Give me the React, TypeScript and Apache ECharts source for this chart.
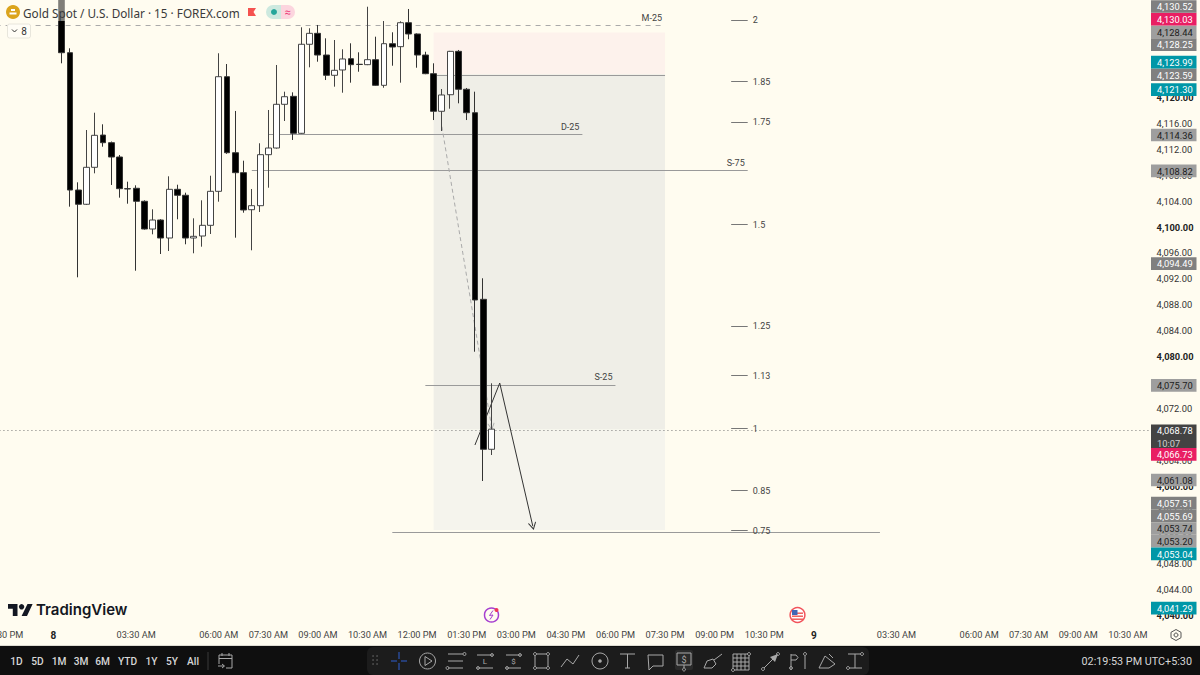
import React, { useEffect, useRef } from "react";
import * as echarts from "echarts";

// ---------- data ----------
const opens = [4136.6,4126.92,4105.71,4103.51,4109.22,4114.2,4113.02,4110.81,4105.92,4105.98,4103.97,4099.69,4101.08,4098.3,4105.82,4104.9,4098.3,4098.61,4100.26,4105.51,4123.21,4111.47,4108.39,4102.67,4103.29,4111.17,4112.2,4118.95,4120.18,4114.47,4128.22,4129.91,4126.56,4123.43,4124.25,4125.99,4125.13,4125.07,4125.84,4121.88,4128.31,4127.85,4131.55,4129.81,4126.56,4123.68,4117.87,4120.43,4127.13,4121.27,4117.65,4088.83,4065.67];
const closes = [4126.92,4105.71,4103.51,4109.22,4114.16,4113.02,4110.81,4105.92,4105.88,4103.97,4099.69,4101.08,4098.3,4105.82,4104.9,4098.3,4098.56,4100.26,4105.51,4123.21,4111.47,4108.39,4102.63,4103.29,4111.17,4112.2,4118.95,4120.12,4114.47,4128.22,4129.91,4126.56,4123.43,4124.2,4125.95,4125.07,4125.1,4125.84,4121.88,4128.31,4127.8,4131.55,4129.81,4126.56,4123.68,4117.87,4120.39,4127.13,4121.27,4117.65,4088.73,4065.67,4068.78];
const highs = [4137,4127.6,4106.9,4114.98,4117.65,4115.86,4113.2,4111.12,4107,4106.44,4104.12,4102.73,4101.2,4107.83,4106.53,4105.3,4101.34,4104.12,4107.92,4126.83,4125.17,4117.92,4110.24,4105.87,4112.93,4118.07,4125.02,4120.9,4120.8,4130.84,4130.69,4131.2,4129.14,4128.88,4127.44,4128.37,4126.98,4134.02,4129.39,4131.81,4130.07,4131.77,4133.67,4129.9,4127.07,4125.28,4121.31,4127.2,4127.34,4121.47,4120.9,4092.08,4075.86];
const lows = [4125.28,4103.14,4092.23,4103.4,4108.29,4112.4,4106.49,4104.53,4103.6,4093.25,4099.6,4098.87,4095.83,4096.29,4101.19,4097.33,4095.94,4096.96,4098.92,4103.91,4111.3,4098.35,4102.21,4096.4,4102.32,4106.07,4112.1,4116.37,4113.44,4114.4,4124.66,4125.53,4122.7,4121.67,4120.74,4122.29,4123.98,4125,4121.8,4121.51,4124.91,4122.29,4128.99,4124.6,4123.6,4116.52,4114.83,4118.27,4119.1,4116.52,4080.74,4060.77,4064.79];

const PRICE_MIN = 4036;
const PRICE_MAX = 4136;
const FIRST_BAR = -8; // categories start eight bars before the first candle
const BAR_COUNT = 140;

const timeTicks: [number, string][] = [
  [-7, "10:30 PM"], [-1, "8"], [9, "03:30 AM"], [19, "06:00 AM"], [25, "07:30 AM"], [31, "09:00 AM"],
  [37, "10:30 AM"], [43, "12:00 PM"], [49, "01:30 PM"], [55, "03:00 PM"], [61, "04:30 PM"], [67, "06:00 PM"],
  [73, "07:30 PM"], [79, "09:00 PM"], [85, "10:30 PM"], [91, "9"], [101, "03:30 AM"], [111, "06:00 AM"],
  [117, "07:30 AM"], [123, "09:00 AM"], [129, "10:30 AM"],
];
const priceTicks = [4120,4116,4112,4108,4104,4100,4096,4092,4088,4084,4080,4076,4072,4068,4064,4060,4056,4052,4048,4044,4040];

const fibLevels: [string, number][] = [
  ["2", 4131.9], ["1.85", 4122.45], ["1.75", 4116.15], ["1.5", 4100.35], ["1.25", 4084.65],
  ["1.13", 4077.05], ["1", 4068.85], ["0.85", 4059.3], ["0.75", 4053.1],
];
const rangeLabels: [string, number, number, number][] = [
  ["D-25", 25, 63, 4114.3], ["S-75", 23, 83, 4108.75], ["S-25", 44, 67, 4075.62],
];

type Tag = { t: string; v: number; k: "grey" | "mid" | "teal" | "pink" | "dark"; sub?: string };
const upperTags: Tag[] = [
  { t: "4,121.30", v: 4121.3, k: "teal" }, { t: "4,123.59", v: 4123.59, k: "mid" },
  { t: "4,123.99", v: 4123.99, k: "teal" }, { t: "4,128.25", v: 4128.25, k: "mid" },
  { t: "4,128.44", v: 4128.44, k: "grey" }, { t: "4,130.03", v: 4130.03, k: "pink" },
  { t: "4,130.52", v: 4130.52, k: "mid" },
];
const lowerTags: Tag[] = [
  { t: "4,114.36", v: 4114.36, k: "grey" }, { t: "4,108.82", v: 4108.82, k: "grey" },
  { t: "4,094.49", v: 4094.49, k: "mid" }, { t: "4,075.70", v: 4075.7, k: "grey" },
  { t: "4,068.78", v: 4068.78, k: "dark", sub: "10:07" }, { t: "4,066.73", v: 4066.73, k: "pink" },
  { t: "4,061.08", v: 4061.08, k: "grey" }, { t: "4,057.51", v: 4057.51, k: "mid" },
  { t: "4,055.69", v: 4055.69, k: "mid" }, { t: "4,053.74", v: 4053.74, k: "grey" },
  { t: "4,053.20", v: 4053.2, k: "grey" }, { t: "4,053.04", v: 4053.04, k: "teal" },
  { t: "4,041.29", v: 4041.29, k: "teal" },
];
const rangeButtons: [string, number][] = [["1D",16.5],["5D",37.5],["1M",59],["3M",81],["6M",102.5],["YTD",127.5],["1Y",151.5],["5Y",172],["All",193]];

// ---------- styles ----------
const BG = "#fffcf0";
const FONT = "Roboto, sans-serif";
const tagFill: Record<string, [string, string]> = {
  grey: ["#9e9e9e", "#1c1c1c"], mid: ["#808080", "#ffffff"], teal: ["#0097a7", "#ffffff"],
  pink: ["#e91e63", "#ffffff"], dark: ["#434343", "#ffffff"],
};

const categories = Array.from({ length: BAR_COUNT }, (_, n) => {
  const hit = timeTicks.find((t) => t[0] === n + FIRST_BAR);
  return hit ? hit[1] : "";
});
const blanks = Array.from({ length: -FIRST_BAR }, () => ["-", "-", "-", "-"]);
const candles = [...blanks, ...opens.map((o, n) => [o, closes[n], lows[n], highs[n]])];
const ix = (bar: number) => bar - FIRST_BAR;

function seg(b1: number, p1: number, b2: number, p2: number, lineStyle: any, label?: any, head?: any) {
  return [
    { xAxis: ix(b1), yAxis: p1, lineStyle, label: label || { show: false }, symbol: "none" },
    { xAxis: ix(b2), yAxis: p2, symbol: head ? head.path : "none", symbolSize: head ? head.size : 0 },
  ];
}
const chevron = "path://M0,0 L5,6 L4.2,6.7 L0,1.7 L-4.2,6.7 L-5,6 Z";
const levelLine = { color: "#9a9a9a", width: 1, type: "solid", opacity: 1 };
const inkLine = { color: "#333333", width: 1, type: "solid", opacity: 1 };
const rangeLabel = (s: string) => ({
  show: true, position: "insideEndTop", distance: 3, formatter: s, color: "#444", fontSize: 9, fontFamily: FONT,
});

// ---------- overlay drawing ----------
function buildOverlay(yOf: (v: number) => number) {
  const els: any[] = [];
  const rect = (x: number, y: number, w: number, h: number, fill: string, extra: any = {}) =>
    els.push({ type: "rect", shape: { x, y, width: w, height: h, r: extra.r || 0 }, style: { fill, stroke: extra.stroke, lineWidth: extra.lw, opacity: extra.op } });
  const text = (t: string, x: number, y: number, fill: string, size: number, align = "left", weight = "normal", family = FONT) =>
    els.push({ type: "text", x, y, style: { text: t, fill, font: `${weight} ${size}px ${family}`, textAlign: align, textVerticalAlign: "middle" } });
  const ln = (x1: number, y1: number, x2: number, y2: number, stroke = "#b0b0b0", w = 1) =>
    els.push({ type: "line", shape: { x1, y1, x2, y2 }, style: { stroke, lineWidth: w } });
  const ring = (cx: number, cy: number, r: number, stroke: string, fill = "none", w = 1) =>
    els.push({ type: "circle", shape: { cx, cy, r }, style: { stroke, fill, lineWidth: w } });
  const dot = (cx: number, cy: number, r: number, fill: string) =>
    els.push({ type: "circle", shape: { cx, cy, r }, style: { fill } });
  const poly = (points: number[][], stroke = "#b0b0b0", w = 1) =>
    els.push({ type: "polyline", shape: { points }, style: { stroke, fill: "none", lineWidth: w } });
  const pgon = (points: number[][], fill: string) =>
    els.push({ type: "polygon", shape: { points }, style: { fill } });

  // header veil and legend
  rect(0, 0, 298, 21, BG, { op: 0.5 });
  dot(13, 12, 7, "#dba41c");
  rect(9.5, 12.5, 7, 2, "#fff");
  rect(11, 9, 4, 2, "#fff");
  text("Gold Spot / U.S. Dollar · 15 · FOREX.com", 23, 12.5, "#3a3a3a", 11.75, "left", "normal", "'Noto Sans', sans-serif");
  pgon([[248, 8], [256, 8], [253.5, 12], [256, 16], [248, 16]], "#f5524f");
  rect(266, 5, 15, 14, "#cde9df", { r: [7, 0, 0, 7] });
  rect(281, 5, 14, 14, "#fcd5de", { r: [0, 7, 7, 0] });
  dot(274, 12, 3, "#26a69a");
  text("≈", 287.5, 12, "#ec407a", 11, "center");
  rect(7.5, 24, 23, 14, "#fffdf6", { stroke: "#e8e6dc", lw: 1, r: 2 });
  poly([[12, 29.5], [14.5, 32], [17, 29.5]], "#333");
  text("8", 24, 31, "#333", 10, "center");

  // TradingView mark
  pgon([[17.5, 604], [8, 604], [8, 608.8], [12.8, 608.8], [12.8, 616], [17.5, 616]], "#131722");
  dot(21.6, 606.8, 2.7, "#131722");
  pgon([[27.5, 604], [32.6, 604], [27, 616], [21.6, 616]], "#131722");
  text("TradingView", 36, 609.5, "#131722", 15, "left", "600", "Inter, sans-serif");

  // event icons
  ring(491.5, 615, 7, "#a63fd0", "#fffcf0", 1.5);
  poly([[493, 610.5], [489.5, 615.5], [493, 615], [490, 619.5]], "#a63fd0", 1);
  dot(496.5, 610, 2, "#f0365a");
  ring(797.5, 615, 7.4, "#f2545b", "#ffffff", 1.5);
  rect(792, 612.5, 11, 1.4, "#ef5350"); rect(792, 615.5, 11, 1.4, "#ef5350"); rect(792, 618.5, 11, 1.4, "#ef5350");
  rect(792, 610, 5.5, 5, "#4066b5");

  // gear
  poly([[1176, 629.5], [1181, 632.3], [1181, 637.7], [1176, 640.5], [1171, 637.7], [1171, 632.3], [1176, 629.5]], "#555");
  ring(1176, 635, 2, "#555");

  // price tags
  const drawTag = (t: Tag, top: number, h: number) => {
    const [fill, ink] = tagFill[t.k];
    rect(1151, top, 45.5, h, fill);
    text(t.t, 1157, top + 6.6, ink, 9.3);
    if (t.sub) text(t.sub, 1157, top + 19, "#d0d0d0", 9.3);
  };
  const H = 12.7;
  let ceil = Infinity;
  upperTags.forEach((t) => {
    const top = Math.min(yOf(t.v) - H / 2 + 0.5, ceil - H);
    drawTag(t, top, H);
    ceil = top;
  });
  let floor = -Infinity;
  lowerTags.forEach((t) => {
    const h = t.sub ? 23.6 : H;
    const top = Math.max(yOf(t.v) - H / 2 + (t.sub ? 1.6 : 1), floor);
    drawTag(t, top, h);
    floor = top + h;
  });

  // bottom bar
  rect(0, 645, 1200, 1, "#dedcd2");
  rect(0, 646, 1200, 29, "#0f0f0f");
  rangeButtons.forEach(([s, x]) => text(s, x, 661, "#d6d6d6", 10.2, "center", "500"));
  ln(208, 652, 208, 670, "#3a3a3a");
  const c = "#a8a8a8";
  poly([[219, 664], [219, 655], [232, 655], [232, 668], [226, 668]], c);
  ln(219, 658.5, 232, 658.5, c); ln(222, 653, 222, 656, c); ln(229, 653, 229, 656, c);
  ln(218, 666, 224, 666, c); poly([[222, 664], [224.5, 666], [222, 668]], c);

  rect(367, 647, 502, 28, "#1c1c1c", { r: 6 });
  [373, 377].forEach((x) => [656, 660, 664].forEach((y) => dot(x, y, 0.8, "#555")));
  const blue = "#2f5fd0";
  ln(391, 661, 397, 661, blue); ln(401, 661, 407, 661, blue); ln(399, 652, 399, 659, blue); ln(399, 663, 399, 670, blue);
  ring(427.5, 661, 8, c); poly([[425, 656.5], [425, 665.5], [432, 661], [425, 656.5]], c);
  // pitch fans & channels
  [654, 661, 668].forEach((y) => ln(448, y, 463, y, c));
  ring(464.5, 654, 1.5, c); ring(447.5, 668, 1.5, c);
  [655, 668].forEach((y) => ln(477, y, 493, y, c));
  text("L", 485, 661.5, c, 8, "center"); ring(478, 668, 1.5, c); ring(492, 655, 1.5, c);
  [655, 668].forEach((y) => ln(506, y, 521, y, c));
  text("$", 513.5, 661.5, c, 8, "center"); ring(507, 668, 1.5, c); ring(520, 655, 1.5, c);
  rect(535, 654, 13, 14, "none", { stroke: c, lw: 1 });
  [[535, 654], [548, 654], [535, 668], [548, 668]].forEach(([x, y]) => ring(x, y, 1.5, c, "#1c1c1c"));
  poly([[561, 667], [567, 659], [573, 664], [579, 655]], c);
  ring(600, 661, 8, c); dot(600, 661, 1.8, c);
  ln(620, 654, 635, 654, c); ln(627.5, 654, 627.5, 668, c); ln(625, 668, 630, 668, c);
  poly([[648, 655], [663, 655], [663, 666], [653, 666], [649, 670], [648, 655]], c);
  rect(675, 650, 18, 20, "#2a2a2a", { r: 2 });
  rect(677, 653, 14, 12, "none", { stroke: c, lw: 1 });
  text("$", 684, 659.5, c, 9, "center"); ln(684, 665, 684, 668, c); ring(684, 669.5, 1.5, c);
  poly([[704, 668], [707, 661], [713, 659], [716, 664], [712, 668], [704, 668]], c); ln(714, 660, 722, 654, c);
  rect(733, 654, 16, 16, "none", { stroke: c, lw: 1 });
  [737, 741, 745].forEach((x) => { ln(x, 654, x, 670, c); });
  [658, 662, 666].forEach((y) => { ln(733, y, 749, y, c); });
  ring(733, 670, 1.5, c, "#1c1c1c"); ring(749, 654, 1.5, c, "#1c1c1c");
  ln(764, 668, 777, 655, c); pgon([[778, 654], [770, 657], [775, 662]], c); ring(763, 669, 1.5, c); ring(778, 654, 1.5, c);
  ln(791, 654, 791, 670, c); poly([[791, 655], [796, 655], [798, 657.5], [796, 660], [791, 660]], c); ring(791, 668, 1.5, c);
  ln(805, 656, 805, 669, c); ring(805, 654, 1.5, c);
  poly([[819, 668], [825, 656], [835, 664], [829, 668], [819, 668]], c); ln(829, 654, 833, 658, c);
  ln(848, 654, 862, 654, c); ln(855, 654, 855, 668, c); ln(848, 668, 862, 668, c); ring(848, 668, 1.5, c, "#1c1c1c"); ring(862, 654, 1.5, c, "#1c1c1c");

  text("02:19:53 PM UTC+5:30", 1192, 661, "#d6d6d6", 10.8, "right");

  els.forEach((e, n) => { e.z = 100; e.zlevel = 0; e.silent = true; e.id = "o" + n; });
  return els;
}

export default function App() {
  const ref = useRef<HTMLDivElement>(null);
  useEffect(() => {
    const chart = echarts.init(ref.current!, undefined, { renderer: "svg" });
    const lines: any[] = [
      { yAxis: 4068.68, lineStyle: { color: "#777", type: [1, 3], width: 1, opacity: 1 }, label: { show: false }, symbol: "none" },
      seg(FIRST_BAR, 4131.1, 73, 4131.1, { color: "#aaaaaa", width: 1, type: [5, 5], opacity: 1 }, rangeLabel("M-25")),
      seg(45, 4123.5, 73, 4123.5, levelLine),
      seg(40, 4052.88, 99, 4052.88, levelLine),
      ...rangeLabels.map(([s, a, b, p]) => seg(a, p, b, p, levelLine, rangeLabel(s))),
      ...fibLevels.map(([s, p]) =>
        seg(81, p, 83, p, { color: "#777", width: 1, type: "solid", opacity: 1 }, {
          show: true, position: "end", distance: 5, formatter: s, color: "#444", fontSize: 9, fontFamily: FONT,
        })
      ),
      seg(46, 4115.5, 52, 4069.2, { color: "#aaaaaa", width: 1, type: [4, 3], opacity: 1 }, undefined, { path: chevron, size: 7 }),
      seg(50, 4066.33, 53, 4075.9, inkLine),
      seg(53, 4075.9, 57, 4053.8, inkLine, undefined, { path: chevron, size: 8 }),
    ];
    chart.setOption({
      animation: false,
      backgroundColor: BG,
      grid: { left: -8.55, width: 1157.1, top: -6.1, height: 647.5, containLabel: false, outerBoundsMode: "none" },
      xAxis: {
        type: "category", data: categories, boundaryGap: true, offset: -11,
        axisLine: { show: false }, axisTick: { show: false }, splitLine: { show: false },
        axisLabel: {
          interval: 0, margin: 0, hideOverlap: false, color: "#444", fontSize: 9.2, fontFamily: FONT,
          showMinLabel: true, showMaxLabel: true,
          formatter: (s: string) => (s.length === 1 ? `{d|${s}}` : s),
          rich: { d: { fontWeight: "bold", color: "#222", fontSize: 10, fontFamily: FONT } },
        },
      },
      yAxis: {
        type: "value", position: "right", min: PRICE_MIN, max: PRICE_MAX, interval: 4,
        axisLine: { show: false }, axisTick: { show: false }, splitLine: { show: false },
        axisLabel: {
          inside: false, margin: 8, color: "#333", fontSize: 9.3, fontFamily: FONT, showMinLabel: false, showMaxLabel: false,
          formatter: (v: number) => {
            if (!priceTicks.includes(v)) return "";
            const s = v.toLocaleString("en-US", { minimumFractionDigits: 2 });
            return v % 20 === 0 ? `{b|${s}}` : s;
          },
          rich: { b: { fontWeight: "bold", color: "#222", fontSize: 9.3, fontFamily: FONT } },
        },
      },
      series: [
        {
          type: "line", data: [], silent: true, z: 1,
          markArea: {
            silent: true, z: 1,
            data: [
              [{ xAxis: ix(45), yAxis: 4130.03, itemStyle: { color: "#fdf2ec", opacity: 1 } }, { xAxis: ix(73), yAxis: 4123.59 }],
              [{ xAxis: ix(45), yAxis: 4123.59, itemStyle: { color: "#efeee7", opacity: 1 } }, { xAxis: ix(73), yAxis: 4068.78 }],
              [{ xAxis: ix(45), yAxis: 4068.78, itemStyle: { color: "#f5f4ed", opacity: 1 } }, { xAxis: ix(73), yAxis: 4053.2 }],
            ],
          },
          markLine: { silent: true, z: 1, symbol: "none", animation: false, data: lines },
        },
        {
          type: "candlestick", data: candles, barWidth: 6.4, z: 3, silent: true,
          itemStyle: { color: "#ffffff", color0: "#000000", borderColor: "#444444", borderColor0: "#333333", borderWidth: 1 },
        },
      ],
    });
    chart.setOption({ graphic: buildOverlay((v) => chart.convertToPixel({ yAxisIndex: 0 }, v) as number) });
    return () => chart.dispose();
  }, []);
  return <div ref={ref} style={{ position: "fixed", left: 0, top: 0, width: 1200, height: 675 }} />;
}
